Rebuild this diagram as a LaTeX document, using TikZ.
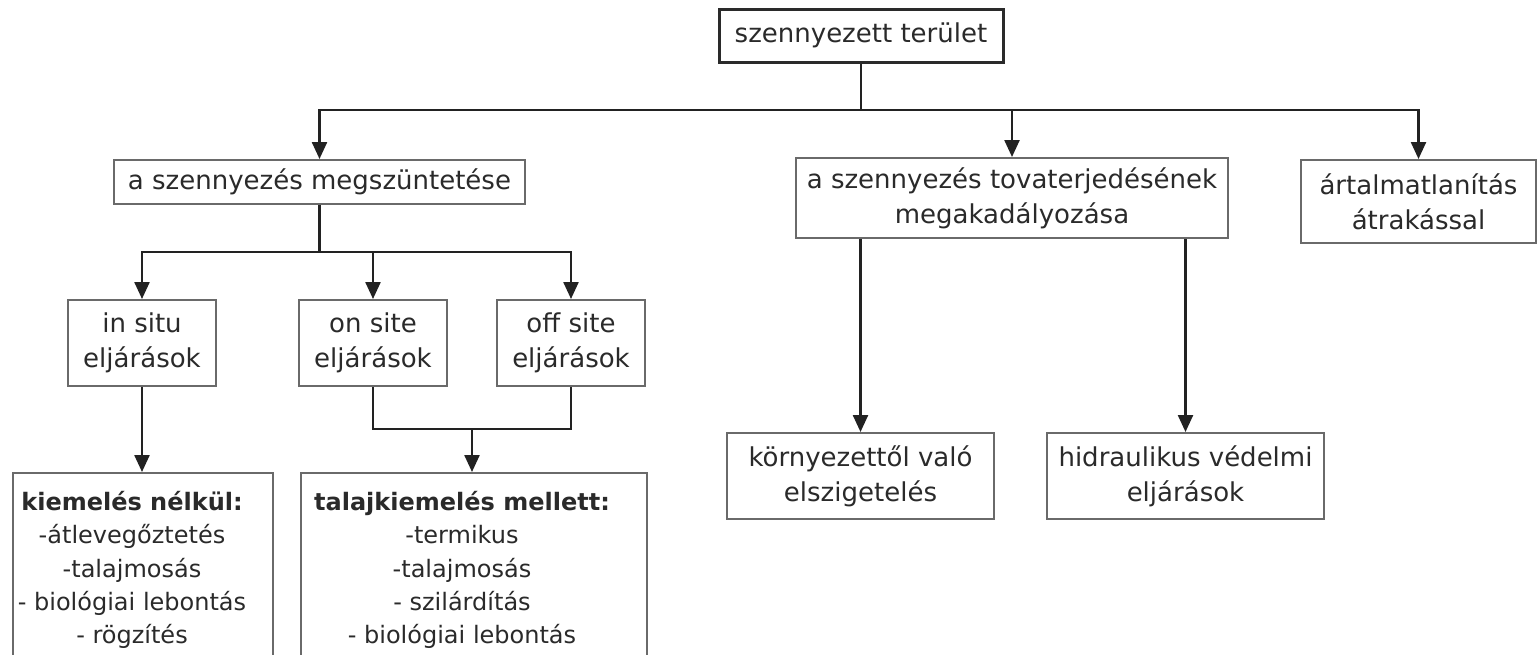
\documentclass[tikz,border=0pt]{standalone}
\usepackage{fontspec}
\setmainfont{DejaVu Sans}
\usetikzlibrary{arrows.meta}
\definecolor{txt}{HTML}{2A2A2A}
\definecolor{bord}{HTML}{6A6A6A}
\definecolor{ln}{HTML}{222222}
\begin{document}
\begin{tikzpicture}[x=1pt,y=-1pt,
  box/.style={draw=bord, line width=2pt, text=txt, font=\fontsize{26}{35}\selectfont, align=center, inner sep=0pt},
  boxtext/.style={text=txt, font=\fontsize{24}{33.3}\selectfont, align=center, inner sep=0pt, anchor=north},
  conn/.style={draw=ln, line width=2.4pt},
  arr/.style={conn, -{Triangle[width=15pt,length=17pt]}}]
\path[use as bounding box, fill=white] (0,0) rectangle (1537,654);
\clip (0,0) rectangle (1537,654);
% nodes
\node[box, draw=txt, line width=3pt, minimum width=284, minimum height=53] (T) at (861,35.5) {szennyezett terület};
\node[box, minimum width=411, minimum height=44] (A) at (319.5,182) {a szennyezés megszüntetése};
\node[box, minimum width=432, minimum height=80] (B) at (1012,198) {a szennyezés tovaterjedésének\\megakadályozása};
\node[box, minimum width=235, minimum height=83] (C) at (1418.5,201.5) {ártalmatlanítás\\átrakással};
\node[box, minimum width=148, minimum height=86] (D) at (142,343) {in situ\\eljárások};
\node[box, minimum width=148, minimum height=86] (E) at (373,343) {on site\\eljárások};
\node[box, minimum width=148, minimum height=86] (F) at (571,343) {off site\\eljárások};
\node[box, minimum width=260, minimum height=207] (G) at (143,576.5) {};
\node[box, minimum width=346, minimum height=207] (H) at (474,576.5) {};
\node[box, minimum width=267, minimum height=86] (I) at (860.5,476) {környezettől való\\elszigetelés};
\node[box, minimum width=277, minimum height=86] (J) at (1185.5,476) {hidraulikus védelmi\\eljárások};
\node[boxtext] (Gt) at (132,491) {\textbf{kiemelés nélkül:}\\-átlevegőztetés\\-talajmosás\\- biológiai lebontás\\- rögzítés};
\node[boxtext] (Ht) at (462,491) {\textbf{talajkiemelés mellett:}\\-termikus\\-talajmosás\\- szilárdítás\\- biológiai lebontás};
% connectors
\coordinate (b1) at (861,110);
\draw[conn] (T.south) -- (b1);
\draw[arr] (b1) -| (A.north);
\draw[arr] (b1) -| (C.north);
\draw[arr] (B.north |- b1) -- (B.north);
\coordinate (b2) at (319.5,252);
\draw[conn] (A.south) -- (b2);
\draw[arr] (b2) -| (D.north);
\draw[arr] (b2) -| (F.north);
\draw[arr] (E.north |- b2) -- (E.north);
\draw[arr] (D.south) -- (D.south |- G.north);
\coordinate (b3) at (472,429);
\draw[conn] (E.south) |- (b3) -| (F.south);
\draw[arr] (b3) -- (b3 |- H.north);
\draw[arr] (B.south -| I.north) -- (I.north);
\draw[arr] (B.south -| J.north) -- (J.north);
\end{tikzpicture}
\end{document}
